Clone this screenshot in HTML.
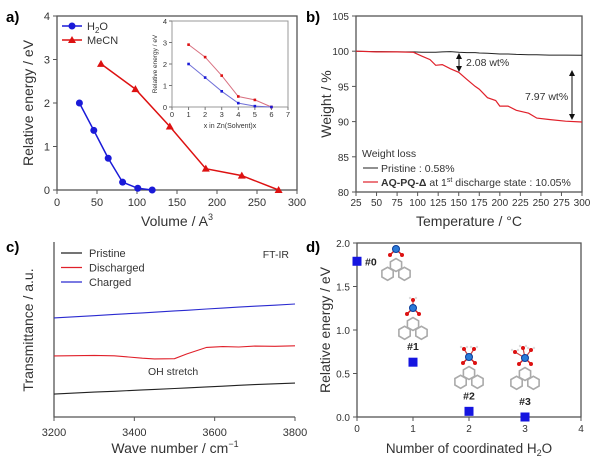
<!DOCTYPE html>
<html><head><meta charset="utf-8"><style>
body{margin:0;background:#fff;}
svg text{font-family:"Liberation Sans",sans-serif;}
</style></head><body>
<svg id="fig" width="600" height="460" viewBox="0 0 600 460" xmlns="http://www.w3.org/2000/svg">
<g id="pa"></g>
<g id="pb"></g>
<g id="pc"></g>
<g id="pd"></g>
</svg>
<script>
// ---- Panel a data
const aH2OVol=[28,46,64,82,101,119];
const aH2OE=[2.0,1.37,0.73,0.18,0.04,0.0];
const aMeCNVol=[55,98,141,186,231,277];
const aMeCNE=[2.9,2.32,1.46,0.49,0.33,0.0];
const aXTicks=[0,50,100,150,200,250,300];
const aYTicks=[0,1,2,3,4];
const insetX=[1,2,3,4,5,6];
const insetH2O=[2.0,1.37,0.73,0.18,0.04,0.0];
const insetMeCN=[2.9,2.32,1.46,0.49,0.33,0.0];
const insetXTicks=[0,1,2,3,4,5,6,7];
const insetYTicks=[0,1,2,3,4];
// ---- Panel b data
const bTemp=[25,50,75,95,105,115,122,130,140,150,160,170,175,185,195,200,210,220,235,245,260,280,300];
const bPristine=[100,99.95,99.9,99.9,99.85,99.85,99.85,99.9,99.95,99.85,99.8,99.8,99.75,99.7,99.65,99.6,99.6,99.55,99.5,99.5,99.45,99.45,99.42];
const bDischarged=[100,99.9,99.9,99.85,99.3,98.8,98.0,98.1,97.5,97.0,96.0,95.0,94.6,93.4,93.0,92.2,92.2,91.6,91.2,90.5,90.3,90.05,89.95];
const bXTicks=[25,50,75,100,125,150,175,200,225,250,275,300];
const bYTicks=[80,85,90,95,100,105];
// ---- Panel c data (arbitrary units)
const cWave=[3200,3300,3350,3420,3450,3500,3530,3580,3620,3660,3700,3750,3800];
const cPristine=[13.1,14.2,14.7,15.5,15.8,16.3,16.6,17.2,17.6,18.1,18.5,19.0,19.4];
const cDischarged=[34.9,35.2,35.0,33.6,33.2,33.3,36,39.8,40.2,40.0,40.5,40.4,40.7];
const cCharged=[56.6,57.9,58.6,59.5,59.9,60.6,61.0,61.7,62.2,62.8,63.3,63.9,64.6];
const cXTicks=[3200,3400,3600,3800];
// ---- Panel d data
const dN=[0,1,2,3];
const dE=[1.79,0.63,0.065,0.0];
const dLabels=["#0","#1","#2","#3"];
const dXTicks=[0,1,2,3,4];
const dYTicks=[0.0,0.5,1.0,1.5,2.0];

const NS="http://www.w3.org/2000/svg";
function el(p,t,a,txt){const e=document.createElementNS(NS,t);for(const k in a)e.setAttribute(k,a[k]);if(txt!==undefined)e.textContent=txt;p.appendChild(e);return e;}
function lin(d0,d1,r0,r1){return v=>r0+(v-d0)*(r1-r0)/(d1-d0);}
function ptsStr(xs,ys,X,Y){return xs.map((v,i)=>X(v).toFixed(1)+","+Y(ys[i]).toFixed(1)).join(" ");}

// ===== Panel a
(function(){
const g=document.getElementById('pa');
const X=lin(0,300,57,297),Y=lin(0,4,190,16);
let t=el(g,'text',{x:6,y:22,'font-size':15,'font-weight':'bold'},'a)');

let r=el(g,'rect',{x:57,y:16,width:240,height:174,fill:'none',stroke:'#555','stroke-width':1.3});

aXTicks.forEach(v=>{el(g,'line',{x1:X(v),x2:X(v),y1:190,y2:194,stroke:'#555'});
 let tt=el(g,'text',{x:X(v),y:206,'font-size':11,'text-anchor':'middle',fill:'#333'},v);
 });
aYTicks.forEach(v=>{el(g,'line',{x1:53,x2:57,y1:Y(v),y2:Y(v),stroke:'#555'});
 let tt=el(g,'text',{x:50,y:Y(v)+4,'font-size':11,'text-anchor':'end',fill:'#333'},v);
 });
t=el(g,'text',{x:177,y:226,'font-size':14,'text-anchor':'middle',fill:'#333'});
t.innerHTML='Volume / A<tspan font-size="9" dy="-6">3</tspan>';

t=el(g,'text',{x:0,y:0,'font-size':14,'text-anchor':'middle',fill:'#333',transform:'translate(33,103) rotate(-90)'},'Relative energy / eV');

let l=el(g,'polyline',{points:ptsStr(aH2OVol,aH2OE,X,Y),fill:'none',stroke:'#1a1ad8','stroke-width':1.5});

aH2OVol.forEach((v,i)=>{let c=el(g,'circle',{cx:X(v),cy:Y(aH2OE[i]),r:3.5,fill:'#1a1ad8'});
 });
l=el(g,'polyline',{points:ptsStr(aMeCNVol,aMeCNE,X,Y),fill:'none',stroke:'#dd1111','stroke-width':1.5});

function tri(p,x,y,s,c){return el(p,'polygon',{points:`${x},${y-s} ${x-s},${y+s*0.75} ${x+s},${y+s*0.75}`,fill:c});}
aMeCNVol.forEach((v,i)=>{let m=tri(g,X(v),Y(aMeCNE[i]),4,'#dd1111');
 });
// legend
let lg=el(g,'g',{});
el(lg,'line',{x1:62,x2:82,y1:26,y2:26,stroke:'#1a1ad8','stroke-width':1.5});el(lg,'circle',{cx:72,cy:26,r:3.5,fill:'#1a1ad8'});
t=el(lg,'text',{x:87,y:30,'font-size':11,fill:'#333'});t.innerHTML='H<tspan font-size="8" dy="3">2</tspan><tspan dy="-3">O</tspan>';
el(lg,'line',{x1:62,x2:82,y1:40,y2:40,stroke:'#dd1111','stroke-width':1.5});tri(lg,72,40,4,'#dd1111');
el(lg,'text',{x:87,y:44,'font-size':11,fill:'#333'},'MeCN');
// inset
const ig=el(g,'g',{});
const IX=lin(0,7,172,288),IY=lin(0,4,107,21);
el(ig,'rect',{x:172,y:21,width:116,height:86,fill:'none',stroke:'#999','stroke-width':1});
insetXTicks.forEach(v=>{el(ig,'line',{x1:IX(v),x2:IX(v),y1:107,y2:110,stroke:'#777'});el(ig,'text',{x:IX(v),y:117,'font-size':7.5,'text-anchor':'middle',fill:'#333'},v);});
insetYTicks.forEach(v=>{el(ig,'line',{x1:169,x2:172,y1:IY(v),y2:IY(v),stroke:'#777'});el(ig,'text',{x:167,y:IY(v)+3,'font-size':7.5,'text-anchor':'end',fill:'#333'},v);});
el(ig,'text',{x:230,y:128,'font-size':7,'text-anchor':'middle',fill:'#333'},'x in Zn(Solvent)x');
el(ig,'text',{x:0,y:0,'font-size':6.5,'text-anchor':'middle',fill:'#333',transform:'translate(157,64) rotate(-90)'},'Relative energy / eV');
el(ig,'polyline',{points:ptsStr(insetX,insetMeCN,IX,IY),fill:'none',stroke:'#d87080','stroke-width':1});
el(ig,'polyline',{points:ptsStr(insetX,insetH2O,IX,IY),fill:'none',stroke:'#7070d8','stroke-width':1});
insetX.forEach((v,i)=>{let a=el(ig,'rect',{x:IX(v)-1.3,y:IY(insetMeCN[i])-1.3,width:2.6,height:2.6,fill:'#dd1111'});
 
 let b=el(ig,'rect',{x:IX(v)-1.3,y:IY(insetH2O[i])-1.3,width:2.6,height:2.6,fill:'#1a1ad8'});
 });
})();

// ===== Panel b
(function(){
const g=document.getElementById('pb');
const X=lin(25,300,356,582),Y=lin(80,105,192,16);
let t=el(g,'text',{x:306,y:22,'font-size':15,'font-weight':'bold'},'b)');

let r=el(g,'rect',{x:356,y:16,width:226,height:176,fill:'none',stroke:'#555','stroke-width':1.3});

bXTicks.forEach(v=>{el(g,'line',{x1:X(v),x2:X(v),y1:192,y2:196,stroke:'#555'});
 let tt=el(g,'text',{x:X(v),y:206,'font-size':10,'text-anchor':'middle',fill:'#333'},v);
 });
bYTicks.forEach(v=>{el(g,'line',{x1:352,x2:356,y1:Y(v),y2:Y(v),stroke:'#555'});
 let tt=el(g,'text',{x:349,y:Y(v)+4,'font-size':10,'text-anchor':'end',fill:'#333'},v);
 });
t=el(g,'text',{x:469,y:226,'font-size':14,'text-anchor':'middle',fill:'#333'},'Temperature / °C');

t=el(g,'text',{x:0,y:0,'font-size':14,'text-anchor':'middle',fill:'#333',transform:'translate(331,104) rotate(-90)'},'Weight / %');

let l=el(g,'polyline',{points:ptsStr(bTemp,bPristine,X,Y),fill:'none',stroke:'#222','stroke-width':1});

l=el(g,'polyline',{points:ptsStr(bTemp,bDischarged,X,Y),fill:'none',stroke:'#e0202a','stroke-width':1.2});

el(g,'defs',{}).innerHTML='<marker id="ah" markerWidth="6" markerHeight="6" refX="3" refY="3" orient="auto-start-reverse"><path d="M0,0 L6,3 L0,6 z" fill="#111"/></marker>';
let ar=el(g,'line',{x1:459,x2:459,y1:56,y2:69,stroke:'#111','stroke-width':1,'marker-start':'url(#ah)','marker-end':'url(#ah)'});

el(g,'text',{x:466,y:66,'font-size':10.5,fill:'#333'},'2.08 wt%');
ar=el(g,'line',{x1:572,x2:572,y1:73,y2:117,stroke:'#111','stroke-width':1,'marker-start':'url(#ah)','marker-end':'url(#ah)'});

el(g,'text',{x:525,y:100,'font-size':10.5,fill:'#333'},'7.97 wt%');
let lg=el(g,'g',{});
el(lg,'text',{x:362,y:157,'font-size':10.5,fill:'#333'},'Weight loss');
el(lg,'line',{x1:363,x2:378,y1:168,y2:168,stroke:'#222','stroke-width':1});
el(lg,'text',{x:381,y:172,'font-size':10.5,fill:'#333'},'Pristine : 0.58%');
el(lg,'line',{x1:363,x2:378,y1:182,y2:182,stroke:'#e0202a','stroke-width':1.2});
t=el(lg,'text',{x:381,y:186,'font-size':10.5,fill:'#333'});
t.innerHTML='<tspan font-weight="bold">AQ-PQ-Δ</tspan> at 1<tspan font-size="7" dy="-4">st</tspan><tspan dy="4"> discharge state : 10.05%</tspan>';
})();

// ===== Panel c
(function(){
const g=document.getElementById('pc');
const X=lin(3200,3800,54,295),Y=lin(0,100,417,242);
let t=el(g,'text',{x:6,y:252,'font-size':15,'font-weight':'bold'},'c)');

let a=el(g,'path',{d:'M54,242 L54,417 L295,417',fill:'none',stroke:'#555','stroke-width':1.3});

cXTicks.forEach(v=>{el(g,'line',{x1:X(v),x2:X(v),y1:417,y2:421,stroke:'#555'});
 let tt=el(g,'text',{x:X(v),y:436,'font-size':11,'text-anchor':'middle',fill:'#333'},v);
 });
t=el(g,'text',{x:175,y:453,'font-size':14,'text-anchor':'middle',fill:'#333'});
t.innerHTML='Wave number / cm<tspan font-size="9" dy="-6">−1</tspan>';

t=el(g,'text',{x:0,y:0,'font-size':14,'text-anchor':'middle',fill:'#333',transform:'translate(33,330) rotate(-90)'},'Transmittance / a.u.');

[[cCharged,'#2a2ad0','charged-line'],[cDischarged,'#e0202a','discharged-line'],[cPristine,'#222','pristine-line']].forEach(s=>{
 let l=el(g,'polyline',{points:ptsStr(cWave,s[0],X,Y),fill:'none',stroke:s[1],'stroke-width':1.1});
 });
el(g,'text',{x:148,y:375,'font-size':10.5,fill:'#333'},'OH stretch');
el(g,'text',{x:289,y:258,'font-size':10.5,'text-anchor':'end',fill:'#333'},'FT-IR');
let lg=el(g,'g',{});
[['Pristine','#222'],['Discharged','#e0202a'],['Charged','#2a2ad0']].forEach((s,i)=>{
 const y=253+i*14.5;el(lg,'line',{x1:61,x2:82,y1:y,y2:y,stroke:s[1],'stroke-width':1.2});
 el(lg,'text',{x:89,y:y+4,'font-size':11,fill:'#333'},s[0]);});
})();

// ===== Panel d
(function(){
const g=document.getElementById('pd');
const X=lin(0,4,357,581),Y=lin(0,2,417,243);
let t=el(g,'text',{x:306,y:252,'font-size':15,'font-weight':'bold'},'d)');

let r=el(g,'rect',{x:357,y:243,width:224,height:174,fill:'none',stroke:'#555','stroke-width':1.3});

dXTicks.forEach(v=>{el(g,'line',{x1:X(v),x2:X(v),y1:417,y2:421,stroke:'#555'});
 let tt=el(g,'text',{x:X(v),y:432,'font-size':10,'text-anchor':'middle',fill:'#333'},v);
 });
dYTicks.forEach(v=>{el(g,'line',{x1:353,x2:357,y1:Y(v),y2:Y(v),stroke:'#555'});
 let tt=el(g,'text',{x:350,y:Y(v)+4,'font-size':10,'text-anchor':'end',fill:'#333'},v.toFixed(1));
 });
t=el(g,'text',{x:469,y:453,'font-size':13.5,'text-anchor':'middle',fill:'#333'});
t.innerHTML='Number of coordinated H<tspan font-size="9" dy="3">2</tspan><tspan dy="-3">O</tspan>';

t=el(g,'text',{x:0,y:0,'font-size':14,'text-anchor':'middle',fill:'#333',transform:'translate(330,330) rotate(-90)'},'Relative energy / eV');

// molecules
function mol(cx,zy,nW,wOff){
 const m=el(g,'g',{});
 const R=6.5,cy=zy+16;
 const centers=[[cx,cy],[cx-R*0.866*2*0.75,cy+R*1.5*0.9],[cx+R*0.866*2*0.75,cy+R*1.5*0.9],[cx,cy+R*1.5*1.5]];
 centers.slice(0,3).forEach(c=>{let p=[];for(let k=0;k<6;k++){const an=Math.PI/6+k*Math.PI/3;p.push((c[0]+R*Math.cos(an)).toFixed(1)+","+(c[1]+R*Math.sin(an)).toFixed(1));}
  el(m,'polygon',{points:p.join(' '),fill:'none',stroke:'#aaa','stroke-width':1.6});});
 el(m,'line',{x1:cx-6,y1:zy+6,x2:cx,y2:zy,stroke:'#c22','stroke-width':1.5});
 el(m,'line',{x1:cx+6,y1:zy+6,x2:cx,y2:zy,stroke:'#c22','stroke-width':1.5});
 el(m,'circle',{cx:cx-6,cy:zy+6,r:2,fill:'#d11'});el(m,'circle',{cx:cx+6,cy:zy+6,r:2,fill:'#d11'});
 for(let i=0;i<nW;i++){const wx=cx+wOff[i][0],wy=zy+wOff[i][1];
  el(m,'line',{x1:cx,y1:zy,x2:wx,y2:wy,stroke:'#c44','stroke-width':1.2});
  el(m,'circle',{cx:wx,cy:wy,r:2,fill:'#d11'});
  el(m,'circle',{cx:wx-3,cy:wy-2,r:1.2,fill:'#ddd'});el(m,'circle',{cx:wx+3,cy:wy-2,r:1.2,fill:'#ddd'});}
 el(m,'circle',{cx:cx,cy:zy,r:3.5,fill:'#2a7ad8',stroke:'#0a3a98','stroke-width':1});
}
mol(396,249,0,[]);
mol(413,308,1,[[0,-8]]);
mol(469,357,2,[[-5,-8],[5,-8]]);
mol(525,358,3,[[-10,-6],[-2,-10],[6,-8]]);
dN.forEach((v,i)=>{let s=el(g,'rect',{x:X(v)-4.5,y:Y(dE[i])-4.5,width:9,height:9,fill:'#1515e0'});
 
 const lx=i===0?X(v)+8:X(v), ly=i===0?Y(dE[i])+4:Y(dE[i])-12;
 let tl=el(g,'text',{x:lx,y:ly,'font-size':10.5,'font-weight':'bold','text-anchor':i===0?'start':'middle',fill:'#222'},dLabels[i]);
 });
})();
</script>
</body></html>
